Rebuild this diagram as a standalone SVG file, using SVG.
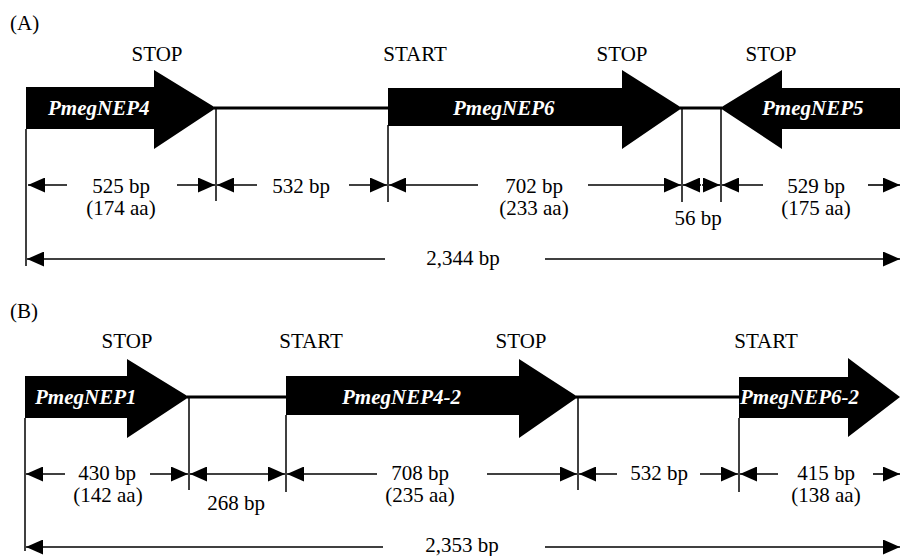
<svg xmlns="http://www.w3.org/2000/svg" width="900" height="556" viewBox="0 0 900 556">
<defs>
<style>
text{font-family:'Liberation Serif','DejaVu Serif','Times New Roman',serif;font-size:21px}
.t{fill:#000}
.c{text-anchor:middle}
.g{font-weight:bold;font-style:italic;fill:#fff}
.gene{fill:#000}
.bb{stroke:#000;stroke-width:3;fill:none}
.v{stroke:#000;stroke-width:1.5;fill:none}
.d{stroke:#000;stroke-width:1.6;fill:none}
</style>
<marker id="ah" viewBox="0 0 17 15" refX="17" refY="7.5" markerWidth="17" markerHeight="15" markerUnits="userSpaceOnUse" orient="auto-start-reverse">
<path d="M0,0 L17,7.5 L0,15 Z" fill="#000"/>
</marker>
</defs>
<rect width="900" height="556" fill="#fff"/>

<text class="t" x="10" y="30">(A)</text>
<text class="t" x="10" y="318">(B)</text>

<g id="A-labels">
<text class="t c" x="157" y="61">STOP</text>
<text class="t c" x="415" y="61">START</text>
<text class="t c" x="622" y="61">STOP</text>
<text class="t c" x="771" y="61">STOP</text>
</g>

<g id="connectors">
<line class="bb" x1="214" y1="108" x2="390" y2="108"/>
<line class="bb" x1="680" y1="108" x2="722" y2="108"/>
<line class="bb" x1="187" y1="397" x2="288" y2="397"/>
<line class="bb" x1="576" y1="397" x2="741" y2="397"/>

<line class="v" x1="26" y1="129" x2="26" y2="266"/>
<line class="v" x1="216" y1="108" x2="216" y2="201"/>
<line class="v" x1="388" y1="125" x2="388" y2="202"/>
<line class="v" x1="682" y1="108" x2="682" y2="202"/>
<line class="v" x1="721" y1="108" x2="721" y2="202"/>

<line class="v" x1="25" y1="418" x2="25" y2="551"/>
<line class="v" x1="189" y1="397" x2="189" y2="490"/>
<line class="v" x1="286" y1="415" x2="286" y2="492"/>
<line class="v" x1="578" y1="397" x2="578" y2="490"/>
<line class="v" x1="739" y1="418" x2="739" y2="492"/>

<line class="d" x1="67" y1="185" x2="28" y2="185" marker-end="url(#ah)"/>
<line class="d" x1="177" y1="185" x2="215" y2="185" marker-end="url(#ah)"/>
<line class="d" x1="257" y1="185" x2="217" y2="185" marker-end="url(#ah)"/>
<line class="d" x1="349" y1="185" x2="387" y2="185" marker-end="url(#ah)"/>
<line class="d" x1="478" y1="185" x2="389" y2="185" marker-end="url(#ah)"/>
<line class="d" x1="588" y1="185" x2="681" y2="185" marker-end="url(#ah)"/>
<line class="d" x1="701" y1="185" x2="683" y2="185" marker-end="url(#ah)"/>
<line class="d" x1="702" y1="185" x2="720" y2="185" marker-end="url(#ah)"/>
<line class="d" x1="763" y1="185" x2="722" y2="185" marker-end="url(#ah)"/>
<line class="d" x1="868" y1="185" x2="900" y2="185" marker-end="url(#ah)"/>
<line class="d" x1="385" y1="259" x2="27" y2="259" marker-end="url(#ah)"/>
<line class="d" x1="545" y1="259" x2="900" y2="259" marker-end="url(#ah)"/>

<line class="d" x1="65" y1="474" x2="26" y2="474" marker-end="url(#ah)"/>
<line class="d" x1="150" y1="474" x2="188" y2="474" marker-end="url(#ah)"/>
<line class="d" x1="200" y1="474" x2="190" y2="474" marker-end="url(#ah)"/>
<line class="d" x1="200" y1="474" x2="285" y2="474" marker-end="url(#ah)"/>
<line class="d" x1="377" y1="474" x2="287" y2="474" marker-end="url(#ah)"/>
<line class="d" x1="487" y1="474" x2="577" y2="474" marker-end="url(#ah)"/>
<line class="d" x1="617" y1="474" x2="579" y2="474" marker-end="url(#ah)"/>
<line class="d" x1="700" y1="474" x2="738" y2="474" marker-end="url(#ah)"/>
<line class="d" x1="778" y1="474" x2="740" y2="474" marker-end="url(#ah)"/>
<line class="d" x1="873" y1="474" x2="900" y2="474" marker-end="url(#ah)"/>
<line class="d" x1="383" y1="547" x2="26" y2="547" marker-end="url(#ah)"/>
<line class="d" x1="545" y1="547" x2="900" y2="547" marker-end="url(#ah)"/>
</g>

<g id="PmegNEP4">
<polygon class="gene" points="26,87 154,87 154,70 216,108 154,149 154,129 26,129"/>
<text class="g" x="48" y="115">PmegNEP4</text>
</g>
<g id="PmegNEP6">
<polygon class="gene" points="388,88 622,88 622,70 682,108 622,149 622,126 388,126"/>
<text class="g" x="453" y="115">PmegNEP6</text>
</g>
<g id="PmegNEP5">
<polygon class="gene" points="900,88 782,88 782,70 720,108 782,149 782,129 900,129"/>
<text class="g" x="762" y="115">PmegNEP5</text>
</g>

<g id="A-dims">
<text class="t c" x="121" y="193">525 bp</text>
<text class="t c" x="121" y="215">(174 aa)</text>
<text class="t c" x="301" y="193">532 bp</text>
<text class="t c" x="534" y="193">702 bp</text>
<text class="t c" x="534" y="215">(233 aa)</text>
<text class="t c" x="698" y="225">56 bp</text>
<text class="t c" x="816" y="193">529 bp</text>
<text class="t c" x="816" y="215">(175 aa)</text>
<text class="t c" x="463" y="265">2,344 bp</text>
</g>

<g id="B-labels">
<text class="t c" x="127" y="348">STOP</text>
<text class="t c" x="311" y="348">START</text>
<text class="t c" x="521" y="348">STOP</text>
<text class="t c" x="766" y="348">START</text>
</g>

<g id="PmegNEP1">
<polygon class="gene" points="25,376 127,376 127,359 189,397 127,438 127,418 25,418"/>
<text class="g" x="35" y="404">PmegNEP1</text>
</g>
<g id="PmegNEP4-2">
<polygon class="gene" points="286,376 519,376 519,359 578,397 519,438 519,415 286,415"/>
<text class="g" x="342" y="404">PmegNEP4-2</text>
</g>
<g id="PmegNEP6-2">
<polygon class="gene" points="739,377 848,377 848,358 900,397 848,437 848,418 739,418"/>
<text class="g" x="740" y="404">PmegNEP6-2</text>
</g>

<g id="B-dims">
<text class="t c" x="107" y="480">430 bp</text>
<text class="t c" x="108" y="502">(142 aa)</text>
<text class="t c" x="236" y="510">268 bp</text>
<text class="t c" x="420" y="480">708 bp</text>
<text class="t c" x="420" y="502">(235 aa)</text>
<text class="t c" x="659" y="480">532 bp</text>
<text class="t c" x="826" y="480">415 bp</text>
<text class="t c" x="826" y="502">(138 aa)</text>
<text class="t c" x="462" y="552">2,353 bp</text>
</g>
</svg>
